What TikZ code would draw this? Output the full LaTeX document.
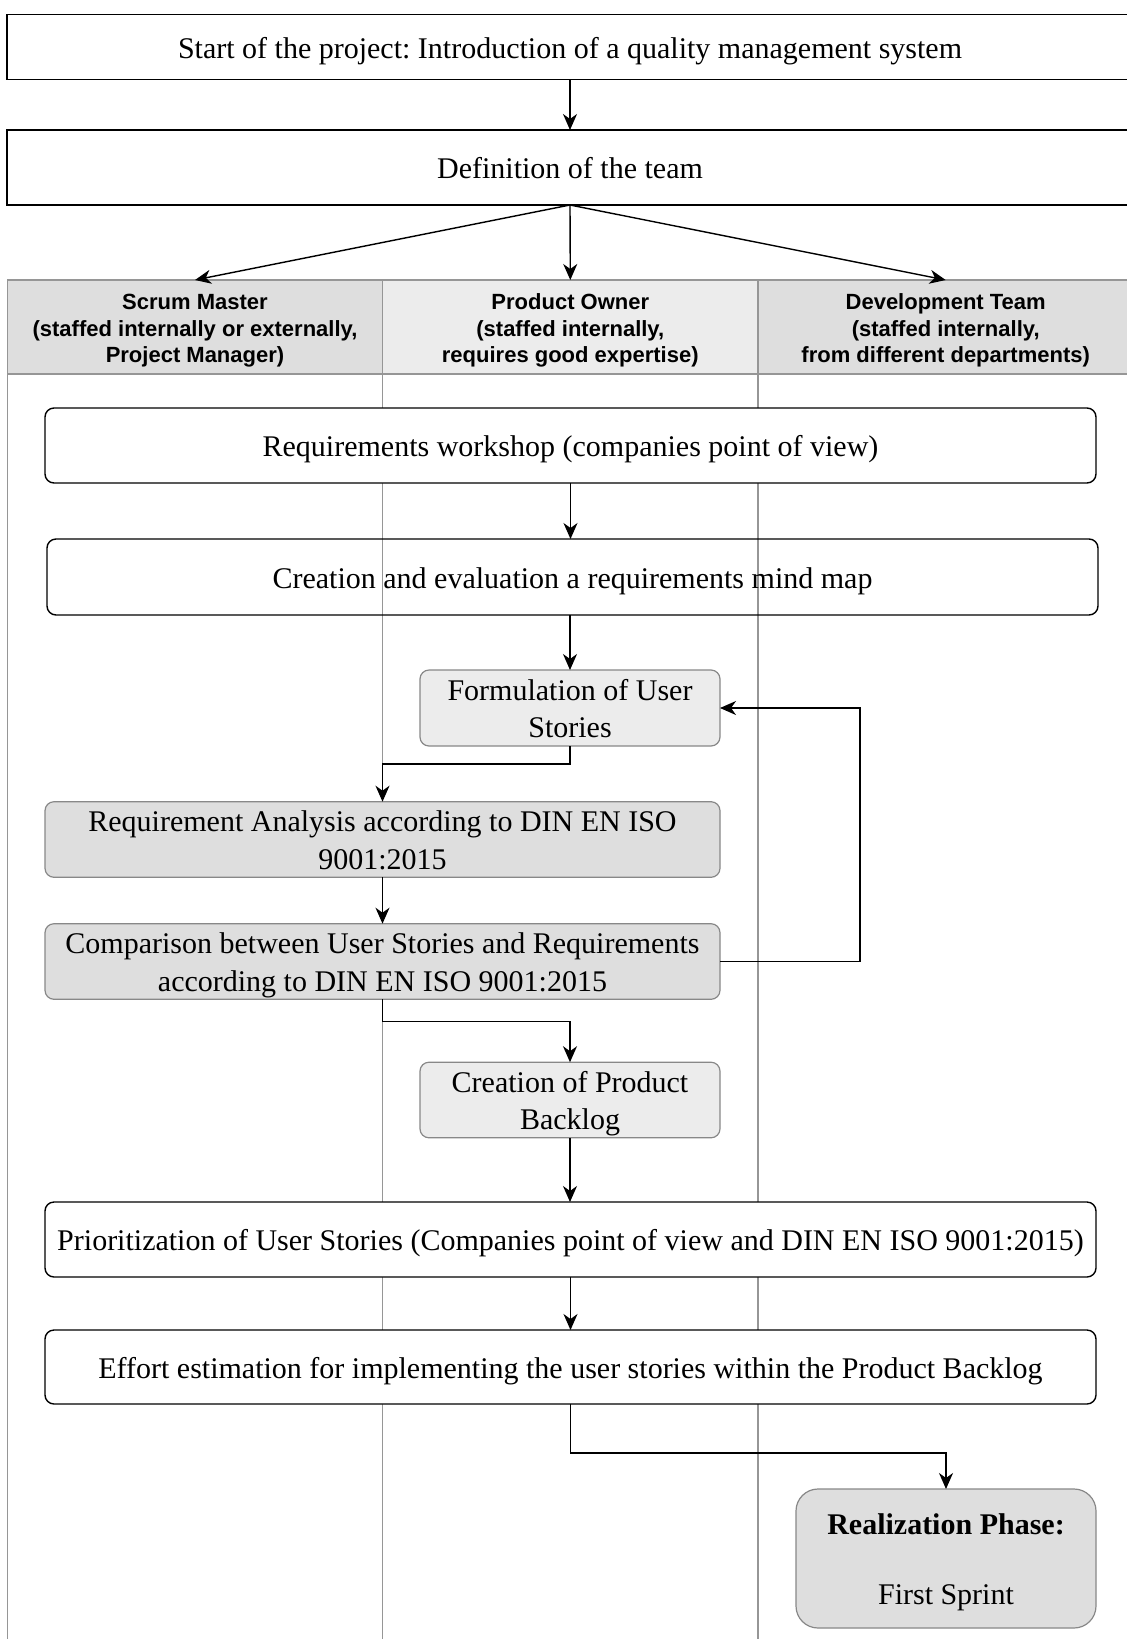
\documentclass[tikz,border=0pt]{standalone}
\usepackage{fontspec}
\setmainfont{Liberation Serif}
\setsansfont{Liberation Sans}
\usetikzlibrary{arrows.meta}
\definecolor{hdark}{RGB}{222,222,222}
\definecolor{hlight}{RGB}{236,236,236}
\definecolor{lanegray}{RGB}{150,150,150}
\definecolor{boxgray}{RGB}{136,136,136}
\frenchspacing
% struts: top and bottom of serif / sans text blocks
\newcommand\Ts{\rule{0pt}{30pt}}
\newcommand\Bs{\rule[-8pt]{0pt}{8pt}}
\newcommand\Tsf{\rule{0pt}{24pt}}
\newcommand\Bsf{\rule[-6pt]{0pt}{6pt}}
\begin{document}
\begin{tikzpicture}[x=1pt,y=-1pt,
  every node/.style={inner sep=0pt,outer sep=0pt,align=center,font=\fontsize{30}{37.6}\selectfont},
  conn/.style={line width=1.4pt,-{Stealth[length=16pt,width=14pt,inset=5pt]}},
  sharpbox/.style={draw,line width=1.4pt,fill=white,minimum width=1126pt},
  wbox/.style={draw,line width=1.4pt,rounded corners=9pt,minimum width=1051pt},
  gbox/.style={draw=boxgray,line width=1.2pt,rounded corners=9pt},
  lanehead/.style={draw=lanegray,line width=1.2pt,minimum width=375.4pt,minimum height=94pt,
    font=\fontsize{22}{26.7}\selectfont\sffamily\bfseries},
  laneline/.style={draw=lanegray,line width=1.2pt}
]
\useasboundingbox (0,0) rectangle (1127,1639);
\clip (0,0) rectangle (1127,1639);
\fill[white] (0,0) rectangle (1127,1639);

% lanes
\draw[laneline] (7.3,374) -- (7.3,1645);
\draw[laneline] (382.6,374) -- (382.6,1645);
\draw[laneline] (758,374) -- (758,1645);

\node[lanehead,fill=hdark] (sm) at (195,327) {\Tsf Scrum Master\\(staffed internally or externally,\\Project Manager)\Bsf};
\node[lanehead,fill=hlight] (po) at (570.3,327) {\Tsf Product Owner\\(staffed internally,\\requires good expertise)\Bsf};
\node[lanehead,fill=hdark] (dt) at (945.7,327) {\Tsf Development Team\\(staffed internally,\\from different departments)\Bsf};

% top boxes
\node[sharpbox,minimum height=65pt] (start) at (570,47) {\Ts Start of the project: Introduction of a quality management system\Bs};
\node[sharpbox,minimum height=75pt] (team) at (570,167.5) {\Ts Definition of the team\Bs};

% process boxes
\node[wbox,fill=white,minimum height=75pt] (rw) at (570.5,445.5) {\Ts Requirements workshop (companies point of view)\Bs};
\node[wbox,minimum height=76pt] (mm) at (572.5,577) {\Ts Creation and evaluation a requirements mind map\Bs};
\node[gbox,fill=hlight,minimum width=300pt,minimum height=76pt] (fus) at (570,708) {\Ts Formulation of User\\Stories\Bs};
\node[gbox,fill=hdark,minimum width=675pt,minimum height=75pt] (ra) at (382.5,839.5) {\Ts Requirement Analysis according to DIN EN ISO\\9001:2015\Bs};
\node[gbox,fill=hdark,minimum width=675pt,minimum height=75pt] (cmp) at (382.5,961.5) {\Ts Comparison between User Stories and Requirements\\according to DIN EN ISO 9001:2015\Bs};
\node[gbox,fill=hlight,minimum width=300pt,minimum height=74pt] (pb) at (570,1100) {\Ts Creation of Product\\Backlog\Bs};
\node[wbox,fill=white,minimum height=75pt] (pri) at (570.5,1239.5) {\Ts Prioritization of User Stories (Companies point of view and DIN EN ISO 9001:2015)\Bs};
\node[wbox,fill=white,minimum height=74pt] (eff) at (570.5,1367) {\Ts Effort estimation for implementing the user stories within the Product Backlog\Bs};
\node[gbox,fill=hdark,rounded corners=22pt,minimum width=300pt,minimum height=139pt] (rp) at (946,1558.5) {\Ts\textbf{Realization Phase:}\\[33pt]First Sprint\Bs};

% connectors
\draw[conn] (start.south) -- (team.north);
\draw[conn] (team.south) -- (sm.north);
\draw[conn] (team.south) -- (po.north);
\draw[conn] (team.south) -- (dt.north);
\draw[conn] (rw.south) -- (rw.south |- mm.north);
\draw[conn] (mm.south -| fus.north) -- (fus.north);
\draw[conn] (fus.south) -- ++(0,18) -| (ra.north);
\draw[conn] (ra.south) -- (cmp.north);
\draw[conn] (cmp.east) -- ++(140,0) |- (fus.east);
\draw[conn] (cmp.south) -- ++(0,22) -| (pb.north);
\draw[conn] (pb.south) -- (pb.south |- pri.north);
\draw[conn] (pri.south) -- (pri.south |- eff.north);
\draw[conn] (eff.south) -- ++(0,49) -| (rp.north);
\end{tikzpicture}
\end{document}
